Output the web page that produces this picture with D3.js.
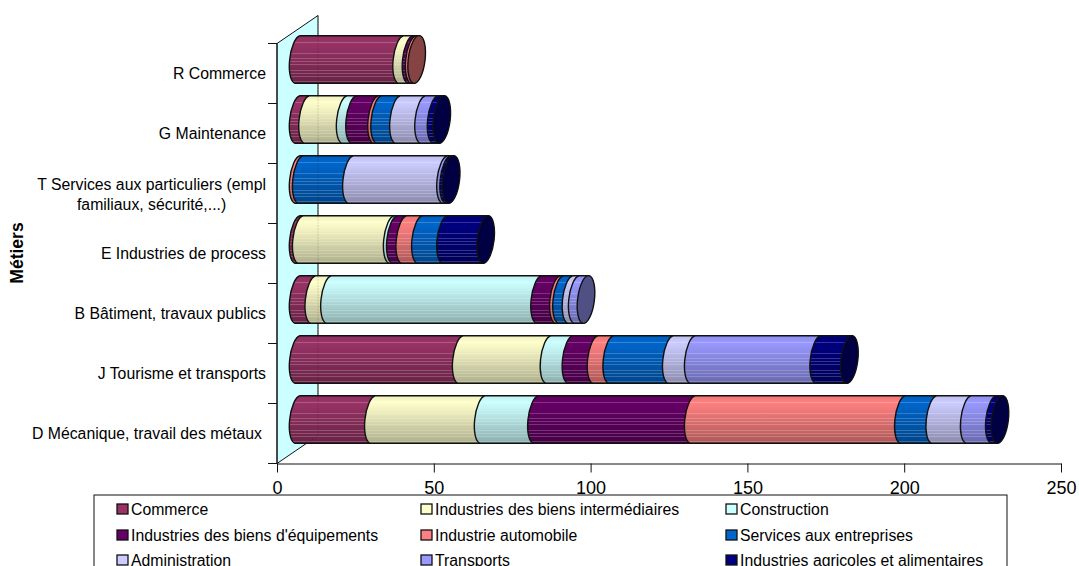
<!DOCTYPE html>
<html lang="fr">
<head>
<meta charset="utf-8">
<title>Métiers par secteur</title>
<script src="https://cdn.jsdelivr.net/npm/d3@7"></script>
<style>
  html, body { margin: 0; padding: 0; background: #fff; overflow: hidden; }
  svg { display: block; font-family: "Liberation Sans", Arial, sans-serif; fill: #000; }
</style>
</head>
<body>
<svg id="chart" width="1079" height="566"></svg>
<script>
// Job families, top of the chart first; "\n" marks a wrapped label.
const metiers = [
  "R Commerce",
  "G Maintenance",
  "T Services aux particuliers (empl\nfamiliaux, sécurité,...)",
  "E Industries de process",
  "B Bâtiment, travaux publics",
  "J Tourisme et transports",
  "D Mécanique, travail des métaux"
];
const secteurs = [
  "Commerce", "Industries des biens intermédiaires", "Construction",
  "Industries des biens d'équipements", "Industrie automobile", "Services aux entreprises",
  "Administration", "Transports", "Industries agricoles et alimentaires"
];
const couleurs = ["#993366", "#ffffcc", "#ccffff", "#660066", "#ff8080", "#0066cc", "#ccccff", "#9999ff", "#000080"];

// One list per sector, in the order of `metiers`.
const commerce       = [33,  3,  0,  1,  5, 52, 24];
const biensInter     = [ 3, 12,  0, 29,  5, 28, 35];
const construction   = [ 0,  3,  0,  1, 67,  7, 17];
const biensEquip     = [ 1,  7,  0,  3,  6,  8, 50];
const automobile     = [ 1,  1,  1,  5,  1,  5, 67];
const servicesEntr   = [ 0,  6, 16,  8,  3, 19, 10];
const administration = [ 0,  8, 30,  0,  2,  7, 11];
const transports     = [ 0,  4,  1,  0,  3, 40,  8];
const agricoles      = [ 0,  2,  1, 13,  0, 10,  2];
const valeurs = [commerce, biensInter, construction, biensEquip, automobile,
                 servicesEntr, administration, transports, agricoles];

const xTicks = [0, 50, 100, 150, 200, 250];

const svg = d3.select("#chart");
const defs = svg.append("defs");

const x = d3.scaleLinear().domain([0, 250]).range([277, 1061]);
const y = d3.scaleBand().domain(metiers).range([43.5, 463.5]).paddingInner(0.207).paddingOuter(0.1035);

// Oblique depth of the 3D box.
const depthX = 41, depthY = -28;
const front = { top: y.range()[0], bottom: y.range()[1], left: x.range()[0] };

// Back wall
svg.append("path")
  .attr("d", d3.line()([
    [front.left, front.top], [front.left + depthX, front.top + depthY],
    [front.left + depthX, front.bottom + depthY], [front.left, front.bottom]
  ]) + "Z")
  .attr("fill", "#ccffff").attr("stroke", "#111").attr("stroke-width", 1);

// Cylinder shading: a vertical ramp with thin lighter bands.
const bands = [0.13, 0.21, 0.29, 0.36, 0.47, 0.53, 0.6, 0.67, 0.73, 0.79, 0.85, 0.9, 0.95];
function shade(color, k) {
  const c = d3.rgb(color);
  return d3.rgb(c.r * k, c.g * k, c.b * k);
}
function ramp(t) {
  return t < 0.14 ? 0.93 + 0.07 * t / 0.14 : 1 - 0.32 * (t - 0.14) / 0.86;
}
function addGradient(id, color) {
  const g = defs.append("linearGradient").attr("id", id)
    .attr("x1", 0).attr("y1", 0).attr("x2", 0).attr("y2", 1);
  const stop = (o, c) => g.append("stop").attr("offset", o).attr("stop-color", c);
  stop(0, shade(color, ramp(0)));
  bands.forEach(t => {
    const base = shade(color, ramp(t));
    const light = d3.interpolateRgb(base, "#fff")(0.2);
    stop(t, base); stop(t, light);
    stop(t + 0.016, light); stop(t + 0.016, base);
  });
  stop(1, shade(color, ramp(1)));
}
couleurs.forEach((c, i) => addGradient("secteur-" + i, c));

// Stack the sectors for every job family.
const rows = metiers.map((m, j) => {
  const row = { metier: m };
  secteurs.forEach((s, i) => { row[s] = valeurs[i][j]; });
  return row;
});
const stacked = d3.stack().keys(secteurs)(rows);

// Tilted ellipse of the cylinder section.
const major = 24, minor = 8.4, tilt = -83.2, lean = 2.5;
const originX = depthX / 2, originY = depthY / 2;

function segmentPath(x0, x1, top, bottom) {
  return `M${x0 + lean},${top}A${major},${minor} ${tilt} 0 0 ${x0 - lean},${bottom}` +
         `L${x1 - lean},${bottom}A${major},${minor} ${tilt} 0 0 ${x1 + lean},${top}Z`;
}

const bars = svg.append("g").attr("transform", `translate(${originX},${originY})`);
metiers.forEach((m, j) => {
  const top = y(m), bottom = top + y.bandwidth();
  let last = -1, end = 0;
  stacked.forEach((layer, i) => {
    const [a, b] = layer[j];
    if (b === a) return;
    last = i; end = b;
    bars.append("path")
      .attr("d", segmentPath(x(a), x(b), top, bottom))
      .attr("fill", `url(#secteur-${i})`)
      .attr("stroke", "#111").attr("stroke-width", 1.4).attr("stroke-linejoin", "round");
  });
  // End cap, in a darker tone of the last sector.
  bars.append("ellipse")
    .attr("transform", `translate(${x(end)},${(top + bottom) / 2}) rotate(${tilt})`)
    .attr("rx", major).attr("ry", minor)
    .attr("fill", shade(couleurs[last], 0.52))
    .attr("stroke", "#111").attr("stroke-width", 1.4);
});

// The wall edge stays faintly visible through the bars.
svg.append("path")
  .attr("d", d3.line()([[front.left + depthX, front.top + depthY], [front.left + depthX, front.bottom + depthY], [front.left + 29, front.bottom - 20]]))
  .attr("fill", "none").attr("stroke", "#000").attr("stroke-opacity", 0.28)
  .attr("stroke-width", 1).attr("stroke-dasharray", "1 2");

// Category axis
const catAxis = svg.append("g");
catAxis.append("line")
  .attr("x1", front.left).attr("x2", front.left)
  .attr("y1", front.top).attr("y2", front.bottom)
  .attr("stroke", "#111");
[front.top].concat(metiers.map(m => y(m) + y.bandwidth() + y.step() * 0.1035)).forEach(v => {
  catAxis.append("line")
    .attr("x1", front.left - 9).attr("x2", front.left)
    .attr("y1", v).attr("y2", v)
    .attr("stroke", "#111");
});
const labelSize = 15.8;
metiers.forEach((m, j) => {
  const cy = y(m) + y.bandwidth() / 2;
  const lines = m.split("\n");
  // The longest label sits slightly further from the axis.
  const labelRight = j === metiers.length - 1 ? 262 : 266;
  if (lines.length === 1) {
    catAxis.append("text")
      .attr("x", labelRight).attr("y", cy + 5.5)
      .attr("text-anchor", "end").attr("font-size", labelSize)
      .text(m);
  } else {
    const first = catAxis.append("text")
      .attr("x", labelRight).attr("y", cy - 4)
      .attr("text-anchor", "end").attr("font-size", labelSize)
      .text(lines[0]);
    const w = first.node().getComputedTextLength();
    catAxis.append("text")
      .attr("x", labelRight - w / 2).attr("y", cy + 16.5)
      .attr("text-anchor", "middle").attr("font-size", labelSize)
      .text(lines[1]);
  }
});
svg.append("text")
  .attr("transform", "translate(23,253) rotate(-90)")
  .attr("text-anchor", "middle")
  .attr("font-size", 17.5).attr("font-weight", "bold")
  .text("Métiers");

// Value axis
const valueAxis = svg.append("g")
  .attr("transform", `translate(0,${front.bottom})`)
  .call(d3.axisBottom(x).tickValues(xTicks).tickSize(9).tickSizeOuter(0));
valueAxis.select(".domain").attr("stroke", "#111");
valueAxis.selectAll(".tick line").attr("stroke", "#111");
valueAxis.selectAll("text")
  .attr("font-family", "\"Liberation Sans\", Arial, sans-serif")
  .attr("font-size", 18).attr("fill", "#000").attr("dy", null).attr("y", 30.5);

// Legend, cut by the lower edge of the page
svg.append("rect")
  .attr("x", 94).attr("y", 495).attr("width", 913).attr("height", 100)
  .attr("fill", "#fff").attr("stroke", "#111");
const legendX = [117, 421, 726];
const legendY = [509, 535, 560];
secteurs.forEach((s, i) => {
  const lx = legendX[i % 3], ly = legendY[Math.floor(i / 3)];
  svg.append("rect")
    .attr("x", lx).attr("y", ly - 5).attr("width", 11).attr("height", 10)
    .attr("fill", couleurs[i]).attr("stroke", "#111").attr("stroke-width", 1.3);
  svg.append("text")
    .attr("x", lx + 14).attr("y", ly + 5.5)
    .attr("font-size", labelSize)
    .text(s);
});
</script>
</body>
</html>
